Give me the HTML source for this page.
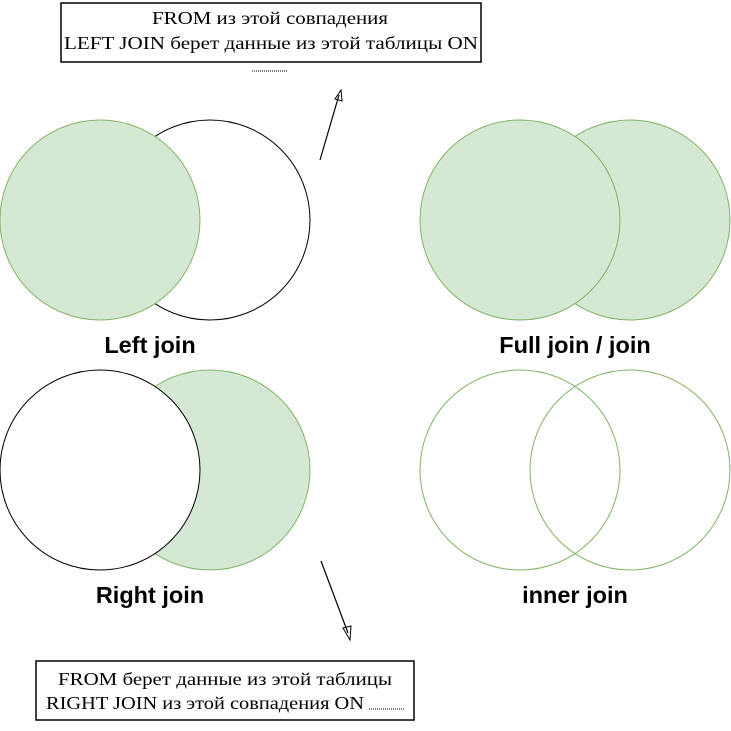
<!DOCTYPE html>
<html><head><meta charset="utf-8"><style>
html,body{margin:0;padding:0;background:#fff;width:731px;height:731px;overflow:hidden}
</style></head><body>
<svg width="731" height="731" viewBox="0 0 731 731" xmlns="http://www.w3.org/2000/svg">
<rect x="61" y="3" width="420" height="59" fill="#fff" stroke="#000" stroke-width="1.5"/>
<text x="152" y="24" font-family="Liberation Serif, DejaVu Serif, serif" font-size="18" textLength="236" lengthAdjust="spacingAndGlyphs">FROM из этой совпадения</text>
<text x="64" y="49" font-family="Liberation Serif, DejaVu Serif, serif" font-size="18" textLength="414" lengthAdjust="spacingAndGlyphs">LEFT JOIN берет данные из этой таблицы ON</text>
<line x1="252" y1="71" x2="288" y2="71" stroke="#000" stroke-width="1" stroke-dasharray="1,1"/>
<line x1="320" y1="160" x2="339" y2="95" stroke="#000" stroke-width="1.2"/>
<path d="M335 99 L341 90 L342 101 Z" fill="none" stroke="#000"/>
<circle cx="210" cy="220" r="100" fill="#fff" stroke="#000"/>
<circle cx="100" cy="220" r="100" fill="#d5e8d4" stroke="#82b366"/>
<text x="150" y="353" font-family="Liberation Sans, sans-serif" font-weight="bold" font-size="23.5" text-anchor="middle">Left join</text>
<circle cx="630" cy="220" r="100" fill="#d5e8d4" stroke="#82b366"/>
<circle cx="520" cy="220" r="100" fill="#d5e8d4" stroke="#82b366"/>
<text x="575" y="353" font-family="Liberation Sans, sans-serif" font-weight="bold" font-size="23.5" text-anchor="middle">Full join / join</text>
<circle cx="210" cy="470" r="100" fill="#d5e8d4" stroke="#82b366"/>
<circle cx="100" cy="470" r="100" fill="#fff" stroke="#000"/>
<text x="150" y="603" font-family="Liberation Sans, sans-serif" font-weight="bold" font-size="23.5" text-anchor="middle">Right join</text>
<circle cx="520" cy="470" r="100" fill="none" stroke="#82b366"/>
<circle cx="630" cy="470" r="100" fill="none" stroke="#82b366"/>
<text x="575" y="603" font-family="Liberation Sans, sans-serif" font-weight="bold" font-size="23.5" text-anchor="middle">inner join</text>
<line x1="321" y1="561" x2="348" y2="633" stroke="#000" stroke-width="1.2"/>
<path d="M343 628 L350 640 L351 626 Z" fill="none" stroke="#000"/>
<rect x="36" y="661" width="378" height="59" fill="#fff" stroke="#000" stroke-width="1.5"/>
<text x="58" y="685" font-family="Liberation Serif, DejaVu Serif, serif" font-size="18" textLength="334" lengthAdjust="spacingAndGlyphs">FROM берет данные из этой таблицы</text>
<text x="46" y="709" font-family="Liberation Serif, DejaVu Serif, serif" font-size="18" textLength="318" lengthAdjust="spacingAndGlyphs">RIGHT JOIN из этой совпадения ON</text>
<line x1="369" y1="709" x2="404" y2="709" stroke="#000" stroke-width="1" stroke-dasharray="1,1"/>
</svg>
</body></html>
